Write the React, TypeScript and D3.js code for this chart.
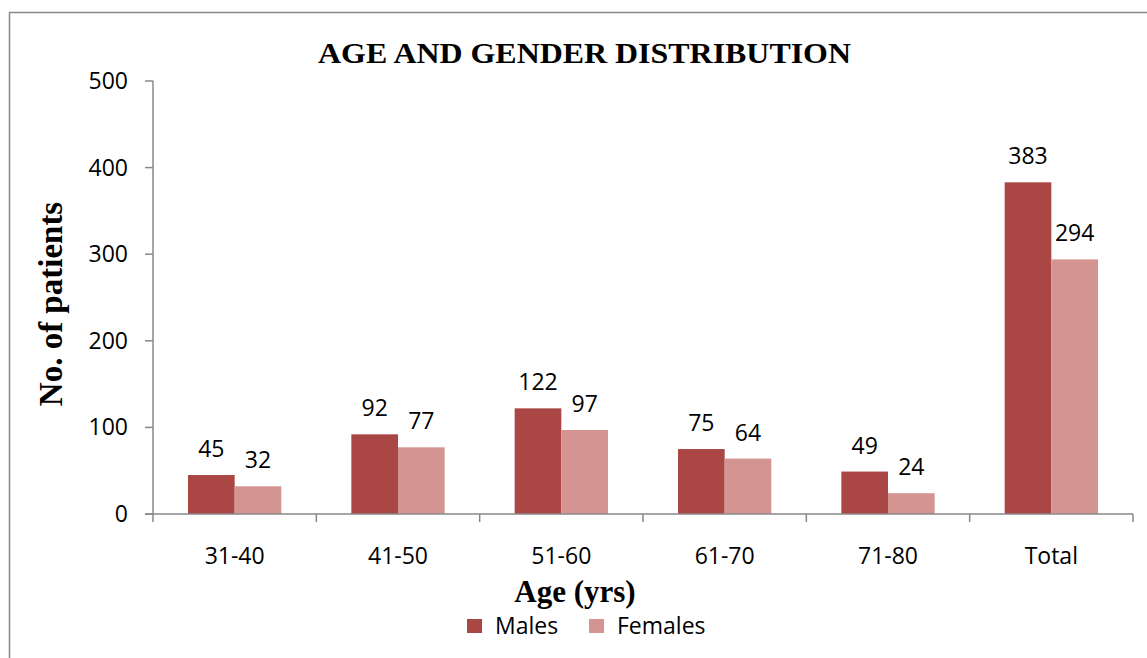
import React from "react";
import * as d3 from "d3";

const categories = ["31-40", "41-50", "51-60", "61-70", "71-80", "Total"];
const males = [45, 92, 122, 75, 49, 383];
const females = [32, 77, 97, 64, 24, 294];
const yTicks = [0, 100, 200, 300, 400, 500];
const seriesNames = ["Males", "Females"];
const colors = ["#AA4644", "#D49492"];

export default function App() {
  const W = 1147, H = 658;
  const left = 153, right = 1133, top = 81, bottom = 514;
  const x = d3.scaleBand<string>().domain(categories).range([left, right]).paddingInner(0).paddingOuter(0);
  const y = d3.scaleLinear().domain([0, 500]).range([bottom, top]);
  const bw = x.bandwidth();
  const barW = bw / 3.5;
  const sub = d3.scaleBand<string>().domain(seriesNames).range([bw / 2 - barW, bw / 2 + barW]);
  const font = "'Open Sans', sans-serif";
  const serif = "'Liberation Serif', 'Times New Roman', serif";
  const data = [males, females];
  const boundaries = categories.map((c) => x(c)!).concat([right]);
  return (
    <svg width={W} height={H} style={{ position: "absolute", left: 0, top: 0 }}>
      <rect x={0} y={0} width={W} height={H} fill="#fff" />
      <rect x={9.5} y={12.5} width={W + 20} height={H + 20} fill="none" stroke="#888" strokeWidth={1.5} />
      <text x={318} y={63} fontFamily={serif} fontWeight="bold" fontSize={29} textLength={533} lengthAdjust="spacingAndGlyphs">
        AGE AND GENDER DISTRIBUTION
      </text>
      {data.map((vals, si) =>
        categories.map((c, i) => {
          const bx = x(c)! + sub(seriesNames[si])!;
          const by = y(vals[i]);
          return (
            <g key={si + "-" + i}>
              <rect x={bx} y={by} width={sub.bandwidth()} height={bottom - by} fill={colors[si]} />
              <text x={bx + sub.bandwidth() / 2} y={by - 18} textAnchor="middle" fontFamily={font} fontSize={23} fill="#000">
                {vals[i]}
              </text>
            </g>
          );
        })
      )}
      {/* y axis */}
      <line x1={left} x2={left} y1={top} y2={bottom} stroke="#888" strokeWidth={1.5} />
      {yTicks.map((t) => (
        <g key={t}>
          <line x1={left - 8} x2={left} y1={y(t)} y2={y(t)} stroke="#888" strokeWidth={1.5} />
          <text x={128} y={y(t) + 8} textAnchor="end" fontFamily={font} fontSize={23}>
            {t}
          </text>
        </g>
      ))}
      {/* x axis */}
      <line x1={left - 8} x2={right} y1={bottom} y2={bottom} stroke="#888" strokeWidth={1.5} />
      {boundaries.map((b, i) => (
        <line key={i} x1={b} x2={b} y1={bottom} y2={bottom + 8} stroke="#888" strokeWidth={1.5} />
      ))}
      {categories.map((c) => (
        <text key={c} x={x(c)! + bw / 2} y={564} textAnchor="middle" fontFamily={font} fontSize={23}>
          {c}
        </text>
      ))}
      <text x={575} y={602} textAnchor="middle" fontFamily={serif} fontWeight="bold" fontSize={31}>
        Age (yrs)
      </text>
      <text transform={`translate(62,304) rotate(-90)`} textAnchor="middle" fontFamily={serif} fontWeight="bold" fontSize={33}>
        No. of patients
      </text>
      {seriesNames.map((s, i) => {
        const lx = [467, 589][i];
        return (
          <g key={s}>
            <rect x={lx} y={619} width={15} height={14} fill={colors[i]} />
            <text x={[495, 617][i]} y={634} fontFamily={font} fontSize={23}>
              {s}
            </text>
          </g>
        );
      })}
    </svg>
  );
}
